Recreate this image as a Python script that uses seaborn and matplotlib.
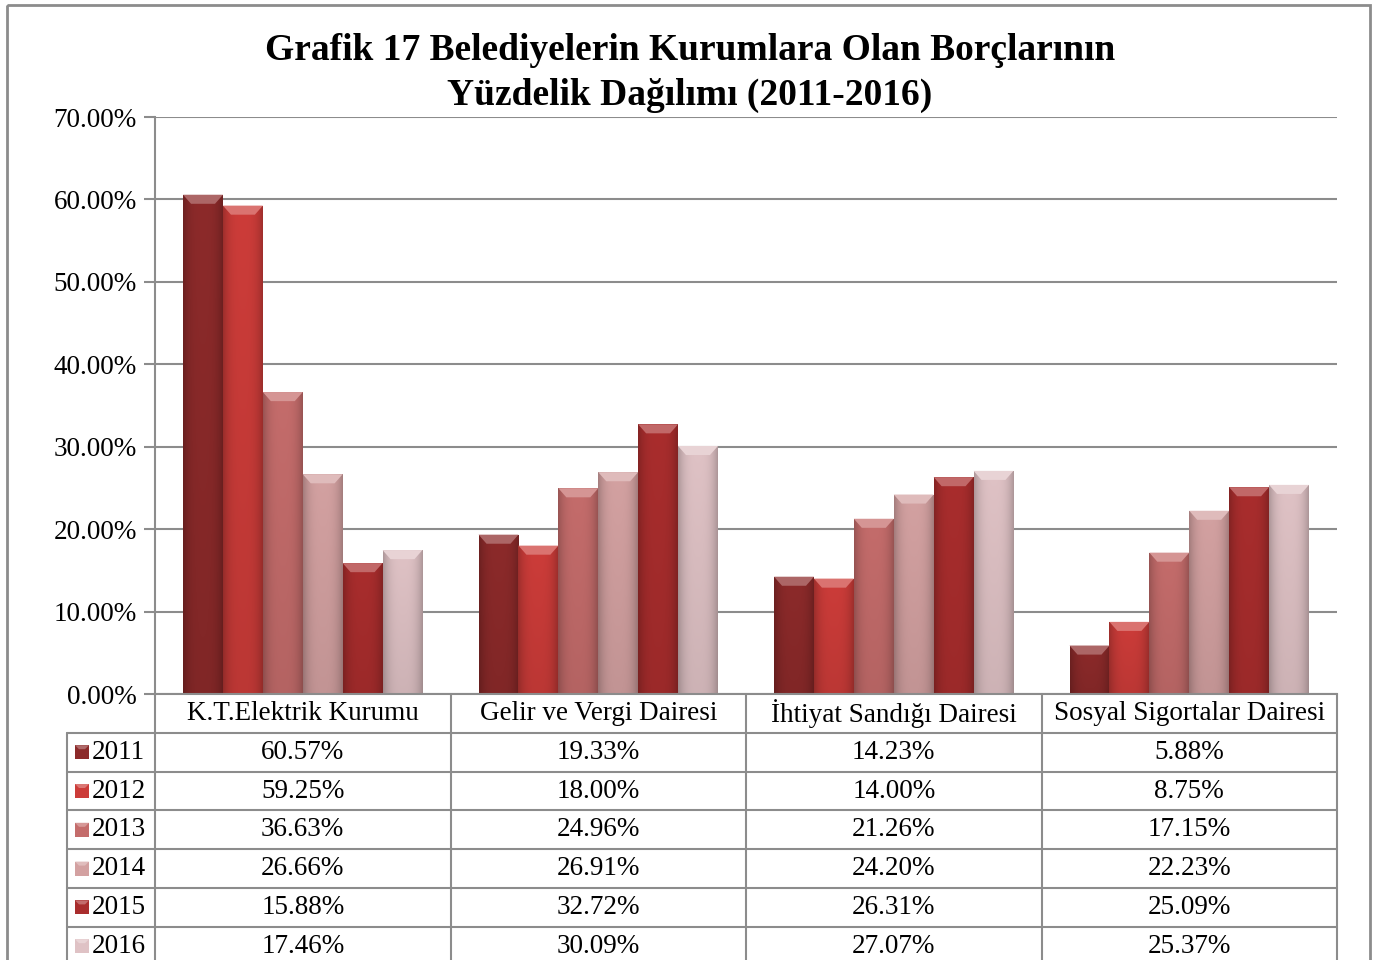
import numpy as np
import pandas as pd
import seaborn as sns
import matplotlib.pyplot as plt
import matplotlib.colors as mcolors
from matplotlib.patches import Rectangle, Polygon

kurumlar = ["K.T.Elektrik Kurumu", "Gelir ve Vergi Dairesi",
            "İhtiyat Sandığı Dairesi", "Sosyal Sigortalar Dairesi"]
yillar = ["2011", "2012", "2013", "2014", "2015", "2016"]
oran_2011 = [60.57, 19.33, 14.23, 5.88]
oran_2012 = [59.25, 18.00, 14.00, 8.75]
oran_2013 = [36.63, 24.96, 21.26, 17.15]
oran_2014 = [26.66, 26.91, 24.20, 22.23]
oran_2015 = [15.88, 32.72, 26.31, 25.09]
oran_2016 = [17.46, 30.09, 27.07, 25.37]
renkler = ["#8c2a2a", "#cc3c39", "#c46c6b", "#d3a1a1", "#a92d2d", "#dfc2c5"]

seriler = [oran_2011, oran_2012, oran_2013, oran_2014, oran_2015, oran_2016]
df = pd.DataFrame([(k, y, v) for y, s in zip(yillar, seriler) for k, v in zip(kurumlar, s)],
                  columns=["kurum", "yil", "oran"])

sns.set_theme(style="white")
plt.rcParams['font.family'] = ['Liberation Serif', 'DejaVu Serif']
plt.rcParams['text.color'] = 'black'
GRI = "#8c8c8c"
FS = 19.5

W, H = 1373, 960
fig = plt.figure(figsize=(W / 100, H / 100), dpi=100)
ax = fig.add_axes([155 / W, 1 - 694 / H, (1337 - 155) / W, (694 - 117) / H])
sns.barplot(data=df, x="kurum", y="oran", hue="yil", palette=renkler, width=0.81,
            saturation=1, ax=ax, legend=False, edgecolor="none", err_kws={"linewidth": 0})

# shaded bars with a bevel on top
for p in list(ax.patches):
    x0, y0, w, h = p.get_x(), p.get_y(), p.get_width(), p.get_height()
    if h <= 0:
        continue
    base = np.array(p.get_facecolor()[:3])
    xs = np.linspace(-1, 1, 80)
    ys = np.linspace(0, 1, 60)
    shade = (1 - 0.22 * np.abs(xs) ** 3)[None, :] * (0.92 + 0.08 * ys)[:, None]
    img = np.clip(base[None, None, :] * shade[:, :, None], 0, 1)
    im = ax.imshow(img, extent=[x0, x0 + w, y0, y0 + h], origin="lower",
                   aspect="auto", zorder=2, interpolation="bilinear")
    im.set_clip_path(p)
    d, b = w * 0.2, 1.1
    light = base + (1 - base) * 0.28
    ax.add_patch(Polygon([(x0, h), (x0 + w, h), (x0 + w - d, h - b), (x0 + d, h - b)],
                         closed=True, facecolor=light, edgecolor="none", zorder=3))

ax.set_xlim(-0.5, 3.5)
ax.set_ylim(0, 70)
ax.set_yticks(np.arange(0, 71, 10))
ax.set_yticklabels([f"{v:.2f}%" for v in np.arange(0, 71, 10)])
ax.yaxis.grid(True, color=GRI, lw=1.5)
ax.set_axisbelow(True)
ax.set_xticks([])
ax.set_xlabel("")
ax.set_ylabel("")
for s in ["top", "right"]:
    ax.spines[s].set_visible(False)
for s in ["left", "bottom"]:
    ax.spines[s].set_color(GRI)
    ax.spines[s].set_linewidth(1.5)
ax.tick_params(axis="y", left=True, length=8, width=1.5, color=GRI, labelsize=FS,
               pad=5, labelcolor="black")

# data table under the chart
ov = fig.add_axes([0, 0, 1, 1], zorder=5)
ov.set_xlim(0, W)
ov.set_ylim(H, 0)
ov.axis("off")
ov.patch.set_alpha(0)

kenar = [ax.transData.transform((i - 0.5, 0))[0] for i in range(len(kurumlar) + 1)]
ust = H - ax.transData.transform((0, 0))[1]
sat = 38.8
sol = 67
son = ust + sat * (len(yillar) + 1)
for x in kenar:
    ov.plot([x, x], [ust, son], color=GRI, lw=1.5)
ov.plot([sol, sol], [ust + sat, son], color=GRI, lw=1.5)
for r in range(1, len(yillar) + 2):
    ov.plot([sol, kenar[-1]], [ust + r * sat] * 2, color=GRI, lw=1.5)

for i, k in enumerate(kurumlar):
    ov.text((kenar[i] + kenar[i + 1]) / 2, ust + sat / 2, k, ha="center", va="center", fontsize=FS)
for r, (y, s, c) in enumerate(zip(yillar, seriler, renkler)):
    yc = ust + sat * (r + 1.5)
    ov.add_patch(Rectangle((75, yc - 7), 14, 14, facecolor=c, edgecolor="none"))
    ov.add_patch(Polygon([(75, yc - 7), (89, yc - 7), (85, yc - 3), (79, yc - 3)],
                         facecolor=np.array(mcolors.to_rgb(c)) * 0.7 + 0.3, edgecolor="none"))
    ov.text(92, yc, y, ha="left", va="center", fontsize=FS)
    for i, v in enumerate(s):
        ov.text((kenar[i] + kenar[i + 1]) / 2, yc, f"{v:.2f}%", ha="center", va="center", fontsize=FS)

ov.add_patch(Rectangle((7, 5), 1363, 970, fill=False, edgecolor=GRI, lw=2))

fig.text(690 / W, 1 - 50 / H, "Grafik 17 Belediyelerin Kurumlara Olan Borçlarının",
         ha="center", va="center", fontsize=27, fontweight="bold")
fig.text(690 / W, 1 - 95 / H, "Yüzdelik Dağılımı (2011-2016)",
         ha="center", va="center", fontsize=27, fontweight="bold")

fig.savefig("out.png", dpi=100)
